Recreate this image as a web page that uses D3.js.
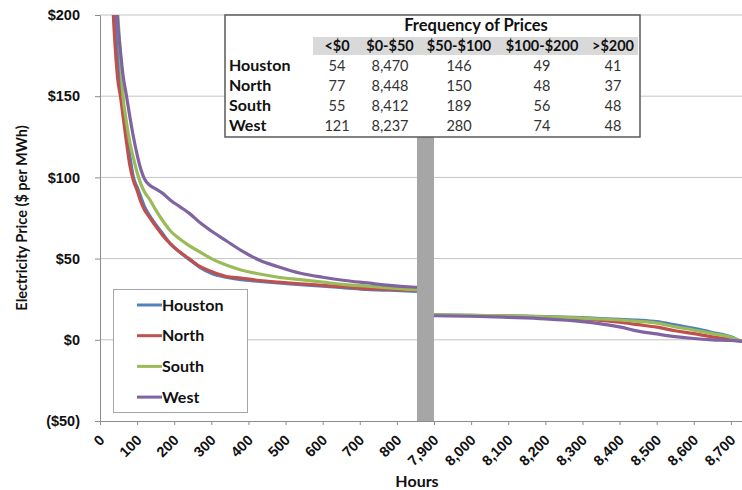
<!DOCTYPE html>
<html>
<head>
<meta charset="utf-8">
<script src="https://cdn.jsdelivr.net/npm/d3@7"></script>
<style>
    body { margin: 0; background: #fff; }
    svg { display: block; font-family: Lato, "Open Sans", sans-serif; }
    .axis text { font-weight: bold; font-size: 14.5px; fill: #111; }
</style>
</head>
<body>
<svg id="chart" width="742" height="490"></svg>
<script>
// hours on the left part of the broken axis
var leftHours = [30, 36, 41, 48, 55, 62, 70, 80, 90, 100, 110, 120, 135, 150, 170, 190, 215, 240, 270, 300, 340, 380, 430, 480, 540, 600, 660, 720, 780, 840, 900];
var houstonLeft = [260, 220, 200, 175, 158, 145, 130, 114, 100, 94, 88, 82, 76, 71, 65, 59, 54, 49.5, 44.5, 41, 38.5, 37, 36, 35, 34, 33, 32, 31, 30.5, 30, 29.5];
var northLeft = [240, 200, 180, 160, 150, 138, 124, 108, 98, 92, 85, 80, 75, 70, 64, 59, 54, 50, 45, 42, 39, 38, 36.5, 35.5, 34.5, 33.5, 32.5, 31.5, 31, 30.5, 30];
var southLeft = [270, 240, 220, 200, 175, 150, 136, 122, 112, 103, 96, 91, 86, 80, 73, 67, 62, 58, 54, 50, 46, 43, 40.5, 38.5, 37, 35.5, 34, 33, 32, 31, 30.5];
var westLeft = [280, 250, 225, 195, 178, 163, 152, 138, 125, 114, 105, 99, 95, 93, 90, 86, 82, 78, 72, 67, 61, 55, 49, 45, 41, 38.5, 36.5, 35, 33.5, 32.5, 32];

// hours on the right part of the broken axis
var rightHours = [7900, 8000, 8100, 8200, 8300, 8350, 8400, 8450, 8500, 8550, 8600, 8650, 8700, 8730, 8760];
var houstonRight = [15.3, 15, 14.7, 14.3, 13.6, 13.1, 12.6, 12.1, 11.2, 9.2, 7, 4.5, 1.8, -1, -2];
var northRight = [15, 14.8, 14.4, 13.9, 12.8, 11.9, 10.8, 9.3, 7.8, 5.6, 3.8, 1.8, 0.2, -1, -2];
var southRight = [15.3, 15, 14.7, 14.2, 13.3, 12.8, 12.2, 11.4, 10.3, 8, 6, 3.8, 1.5, -1, -2];
var westRight = [14.8, 14.5, 13.8, 12.9, 11.2, 9.8, 8, 5.3, 3.6, 2, 0.8, 0, -0.4, -1, -2];

var regions = ["Houston", "North", "South", "West"];
var regionColors = ["#4f81bd", "#c0504d", "#9bbb59", "#8064a2"];

var xTicks = [0, 100, 200, 300, 400, 500, 600, 700, 800, 7900, 8000, 8100, 8200, 8300, 8400, 8500, 8600, 8700];
var yTicks = [-50, 0, 50, 100, 150, 200];

// frequency table
var freqColumns = ["<$0", "$0-$50", "$50-$100", "$100-$200", ">$200"];
var freqHouston = [54, 8470, 146, 49, 41];
var freqNorth = [77, 8448, 150, 48, 37];
var freqSouth = [55, 8412, 189, 56, 48];
var freqWest = [121, 8237, 280, 74, 48];

var series = [
    {name: regions[0], color: regionColors[0], left: houstonLeft, right: houstonRight},
    {name: regions[1], color: regionColors[1], left: northLeft, right: northRight},
    {name: regions[2], color: regionColors[2], left: southLeft, right: southRight},
    {name: regions[3], color: regionColors[3], left: westLeft, right: westRight}
];
var freqRows = [freqHouston, freqNorth, freqSouth, freqWest];

var plotLeft = 100, plotRight = 742, plotTop = 15, plotBottom = 421;

var svg = d3.select("#chart");

// broken axis: 0-900 on the left, 7900-8800 on the right, both at the same scale
var x = d3.scaleLinear()
    .domain([0, 900, 7900, 8800])
    .range([plotLeft, 434, 434, 768]);
var y = d3.scaleLinear()
    .domain([-50, 200])
    .range([plotBottom, plotTop]);

svg.append("defs").append("clipPath")
    .attr("id", "plot-clip")
    .append("rect")
    .attr("x", plotLeft)
    .attr("y", plotTop)
    .attr("width", plotRight - plotLeft)
    .attr("height", plotBottom - plotTop);

// gridlines
svg.append("g")
    .selectAll("line")
    .data(yTicks.filter(d => d > -50))
    .join("line")
    .attr("x1", plotLeft)
    .attr("x2", plotRight)
    .attr("y1", d => y(d))
    .attr("y2", d => y(d))
    .attr("stroke", "#c4c4c4")
    .attr("stroke-width", 1);

// y axis
var yAxis = svg.append("g")
    .attr("class", "axis")
    .attr("transform", `translate(${plotLeft},0)`)
    .call(d3.axisLeft(y).tickValues(yTicks).tickSize(5).tickPadding(15)
        .tickFormat(d => d < 0 ? "($" + (-d) + ")" : "$" + d));
yAxis.select(".domain").attr("stroke", "#8c8c8c");
yAxis.selectAll(".tick line").attr("stroke", "#8c8c8c");
yAxis.selectAll(".tick text")
    .attr("fill", d => d < 0 ? "#ee3b3b" : "#111");

// x axis
var xAxis = svg.append("g")
    .attr("class", "axis")
    .attr("transform", `translate(0,${plotBottom})`)
    .call(d3.axisBottom(x).tickValues(xTicks).tickSize(4).tickSizeOuter(0)
        .tickFormat(d3.format(",")));
xAxis.select(".domain").attr("stroke", "#8c8c8c");
xAxis.selectAll(".tick line").attr("stroke", "#8c8c8c");
xAxis.selectAll(".tick text")
    .attr("text-anchor", "end")
    .attr("x", 0)
    .attr("y", 0)
    .attr("dy", 0)
    .attr("transform", "translate(5,20) rotate(-45)");

// duration curves, drawn in two pieces each
var line = d3.line()
    .curve(d3.curveMonotoneX)
    .x(d => x(d[0]))
    .y(d => y(d[1]));

var curves = svg.append("g")
    .attr("clip-path", "url(#plot-clip)")
    .attr("fill", "none")
    .attr("stroke-width", 3.2)
    .attr("stroke-linejoin", "round");

series.forEach(function (s) {
    curves.append("path")
        .attr("stroke", s.color)
        .attr("d", line(leftHours.map((h, i) => [h, s.left[i]])));
    curves.append("path")
        .attr("stroke", s.color)
        .attr("d", line(rightHours.map((h, i) => [h, s.right[i]])));
});

// gray bar marking the axis break
svg.append("rect")
    .attr("x", 417)
    .attr("y", plotTop)
    .attr("width", 434 - 417)
    .attr("height", plotBottom - plotTop)
    .attr("fill", "#a6a6a6");

// axis titles
svg.append("text")
    .attr("transform", "translate(27,218) rotate(-90)")
    .attr("text-anchor", "middle")
    .attr("font-weight", "bold")
    .attr("font-size", 14.5)
    .attr("fill", "#111")
    .text("Electricity Price ($ per MWh)");

svg.append("text")
    .attr("x", 417)
    .attr("y", 487)
    .attr("text-anchor", "middle")
    .attr("font-weight", "bold")
    .attr("font-size", 16)
    .attr("fill", "#111")
    .text("Hours");

// legend
var legend = svg.append("g");
legend.append("rect")
    .attr("x", 113.5)
    .attr("y", 289.5)
    .attr("width", 134)
    .attr("height", 123)
    .attr("fill", "#fff")
    .attr("stroke", "#a6a6a6");
var legendItem = legend.selectAll("g.item")
    .data(series)
    .join("g")
    .attr("class", "item")
    .attr("transform", (d, i) => `translate(0,${305 + i * 30.7})`);
legendItem.append("line")
    .attr("x1", 137)
    .attr("x2", 162)
    .attr("stroke", d => d.color)
    .attr("stroke-width", 3);
legendItem.append("text")
    .attr("x", 162)
    .attr("dy", "0.36em")
    .attr("font-weight", "bold")
    .attr("font-size", 16)
    .attr("fill", "#111")
    .text(d => d.name);

// frequency table
var colX = [337, 390, 459, 542, 613];
var table = svg.append("g");
table.append("rect")
    .attr("x", 225)
    .attr("y", 15)
    .attr("width", 640 - 225)
    .attr("height", 137 - 15)
    .attr("fill", "#fff")
    .attr("stroke", "#595959")
    .attr("stroke-width", 1.5);
table.append("rect")
    .attr("x", 313)
    .attr("y", 37)
    .attr("width", 638 - 313)
    .attr("height", 55 - 37)
    .attr("fill", "#d9d9d9");
table.append("text")
    .attr("x", 476)
    .attr("y", 31)
    .attr("text-anchor", "middle")
    .attr("font-weight", "bold")
    .attr("font-size", 16.5)
    .attr("fill", "#111")
    .text("Frequency of Prices");
table.selectAll("text.col")
    .data(freqColumns)
    .join("text")
    .attr("class", "col")
    .attr("x", (d, i) => colX[i])
    .attr("y", 51)
    .attr("text-anchor", "middle")
    .attr("font-weight", "bold")
    .attr("font-size", 14.5)
    .attr("fill", "#111")
    .text(d => d);

var tableRow = table.selectAll("g.row")
    .data(freqRows)
    .join("g")
    .attr("class", "row")
    .attr("transform", (d, i) => `translate(0,${71 + i * 20})`);
tableRow.append("text")
    .attr("x", 229)
    .attr("font-weight", "bold")
    .attr("font-size", 16)
    .attr("fill", "#111")
    .text((d, i) => regions[i]);
tableRow.selectAll("text.val")
    .data(d => d)
    .join("text")
    .attr("class", "val")
    .attr("x", (d, i) => colX[i])
    .attr("text-anchor", "middle")
    .attr("font-size", 14.5)
    .attr("fill", "#333")
    .text(d => d3.format(",")(d));
</script>
</body>
</html>
